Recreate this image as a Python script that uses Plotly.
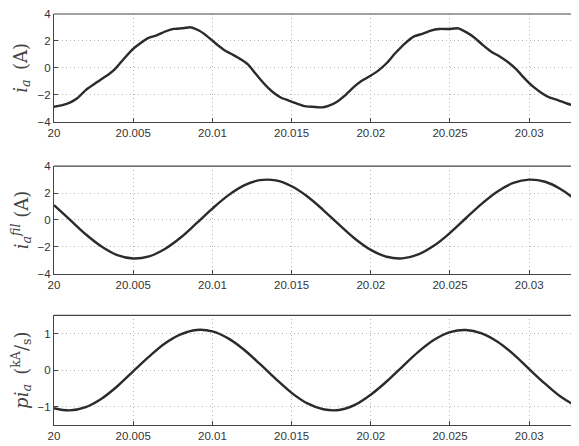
import plotly.graph_objects as go

# ---- data (time offsets in ms after t = 20 s) ----
t_ia_ms = [0, 0.53, 1.0, 1.49, 2.02, 2.55, 2.98, 3.40, 3.83, 4.36, 4.96, 5.43, 5.96, 6.49,
           7.02, 7.55, 8.09, 8.62, 9.15, 9.68, 10.21, 10.74, 11.31, 11.84, 12.26, 12.68,
           13.10, 13.52, 13.95, 14.37, 14.79, 15.21, 15.74, 16.27, 16.90, 17.32, 17.85,
           18.38, 18.90, 19.43, 19.96, 20.49, 21.01, 21.54, 22.20, 22.73, 23.26, 23.79,
           24.32, 24.96, 25.49, 26.02, 26.55, 27.08, 27.61, 28.14, 28.67, 29.19, 29.72,
           30.25, 30.78, 31.31, 31.84, 32.37, 32.90, 33.16, 33.60]
ia = [-2.89, -2.77, -2.58, -2.24, -1.64, -1.20, -0.84, -0.53, -0.12, 0.60, 1.37, 1.81,
      2.22, 2.41, 2.70, 2.89, 2.94, 3.01, 2.77, 2.34, 1.81, 1.33, 0.96, 0.60, 0.24, -0.36,
      -0.96, -1.49, -1.93, -2.24, -2.41, -2.60, -2.82, -2.89, -2.94, -2.82, -2.53, -2.05,
      -1.45, -0.96, -0.60, -0.19, 0.36, 1.08, 1.86, 2.34, 2.53, 2.77, 2.89, 2.89, 2.94,
      2.65, 2.24, 1.69, 1.20, 0.84, 0.41, -0.12, -0.80, -1.40, -1.86, -2.22, -2.41, -2.65,
      -2.82, -2.87, -2.90]

t_ms = list(range(0, 35))
ia_fil = [1.10, 0.02, -1.06, -1.97, -2.61, -2.86, -2.70, -2.15, -1.30, -0.24, 0.85, 1.83,
          2.57, 2.96, 2.94, 2.51, 1.75, 0.74, -0.35, -1.39, -2.22, -2.73, -2.85, -2.56,
          -1.90, -0.96, 0.13, 1.20, 2.12, 2.75, 3.00, 2.84, 2.29, 1.44, 0.38]
pia = [-1.04, -1.10, -1.01, -0.78, -0.44, -0.03, 0.37, 0.73, 0.98, 1.10, 1.06, 0.87, 0.56,
       0.17, -0.24, -0.62, -0.91, -1.07, -1.09, -0.95, -0.67, -0.31, 0.10, 0.50, 0.83,
       1.04, 1.10, 1.01, 0.78, 0.44, 0.03, -0.37, -0.73, -0.98, -1.10]

x_ticks = [20, 20.005, 20.01, 20.015, 20.02, 20.025, 20.03]
x_tick_labels = ["20", "20.005", "20.01", "20.015", "20.02", "20.025", "20.03"]
y_ticks_a = [-4, -2, 0, 2, 4]
y_ticks_p = [-1, 0, 1]

x_ia = [20 + v / 1000 for v in t_ia_ms]
x_s = [20 + v / 1000 for v in t_ms]

LINE = dict(color="#2b2b2b", width=2.4)
fig = go.Figure()
fig.add_trace(go.Scatter(x=x_ia, y=ia, mode="lines", line=dict(**LINE, shape="spline", smoothing=0.4),
                         xaxis="x", yaxis="y", showlegend=False))
fig.add_trace(go.Scatter(x=x_s, y=ia_fil, mode="lines", line=dict(**LINE, shape="spline"),
                         xaxis="x2", yaxis="y2", showlegend=False))
fig.add_trace(go.Scatter(x=x_s, y=pia, mode="lines", line=dict(**LINE, shape="spline"),
                         xaxis="x3", yaxis="y3", showlegend=False))

tickfont = dict(family="Liberation Sans, Arial, sans-serif", size=11.5, color="#333")
titlefont = dict(family="DejaVu Serif, Liberation Serif, serif", size=18, color="#444")
xrange = [20, 20.03365]
GRID = dict(showgrid=True, gridcolor="#b8b8b8", griddash="1px,3px", gridwidth=1)

def xax(anchor):
    return dict(range=xrange, tickvals=x_ticks, ticktext=x_tick_labels, anchor=anchor,
                showline=True, linecolor="#444", linewidth=1.2, ticks="inside", ticklen=4,
                tickcolor="#444", zeroline=False, tickfont=tickfont, domain=[0, 1], **GRID)

def yax(anchor, dom, rng, tv, title):
    return dict(range=rng, tickvals=tv, anchor=anchor, domain=dom, showline=True,
                linecolor="#444", linewidth=1.2, ticks="inside", ticklen=4, tickcolor="#444",
                zeroline=False, tickfont=tickfont, **GRID,
                title=dict(text=title, font=titlefont, standoff=5))

fig.update_layout(
    width=579, height=446,
    margin=dict(l=46, r=0, t=1, b=29),
    plot_bgcolor="white", paper_bgcolor="white",
    xaxis=xax("y"), xaxis2=xax("y2"), xaxis3=xax("y3"),
    yaxis=yax("x", [0.738, 1.0], [-4, 4], y_ticks_a, "<i>i<sub>a</sub></i>\u2009 (A)"),
    yaxis2=yax("x2", [0.3678, 0.6298], [-4, 4], y_ticks_a, "<i>i<sub>a</sub><sup>fil</sup></i> (A)"),
    yaxis3=yax("x3", [0.0, 0.2668], [-1.5, 1.5], y_ticks_p, "<i>pi<sub>a</sub></i>\u2009 (<sup>kA</sup>/<sub>s</sub>)"),
)
for yr in ["y", "y2", "y3"]:
    xr = "x" if yr == "y" else "x" + yr[1:]
    fig.add_shape(type="line", xref=f"{xr} domain", yref=f"{yr} domain", x0=0, x1=1, y0=1, y1=1,
                  line=dict(color="#444", width=1.2))

fig.write_html("out.html")
